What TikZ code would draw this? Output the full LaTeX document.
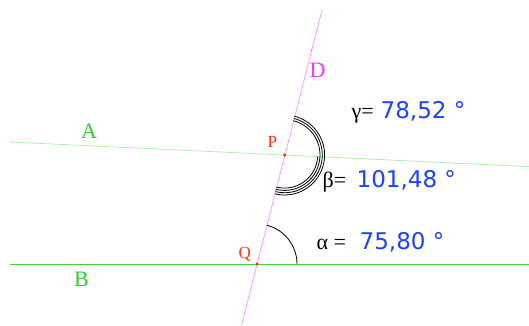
\documentclass[tikz,border=0pt]{standalone}
\usepackage{fontspec}
\setmainfont{Liberation Serif}
\newfontfamily\numfont{DejaVu Sans}
\usetikzlibrary{calc}
\definecolor{lgreen}{HTML}{B4EAB4}
\definecolor{bgreen}{HTML}{40D040}
\definecolor{lblgreen}{HTML}{33CC33}
\definecolor{dpink}{HTML}{FF9CFF}
\definecolor{dmag}{HTML}{FF33FF}
\definecolor{pred}{HTML}{FF3311}
\definecolor{nblue}{HTML}{1E40FF}
\tikzset{
  lbl/.style={inner sep=0pt, anchor=base west, font=\fontsize{22}{26}\selectfont},
  ptlbl/.style={inner sep=0pt, anchor=base west, text=pred, font=\fontsize{17}{20}\selectfont},
  greek/.style={inner sep=0pt, anchor=base west, font=\fontsize{22}{26}\selectfont},
  num/.style={inner sep=0pt, anchor=base west, text=nblue, font=\numfont\fontsize{23}{27}\selectfont},
  pt/.style={circle, fill=pred, inner sep=0pt, minimum size=3.4pt},
  arcline/.style={line width=0.8pt, black}
}
\begin{document}
\begin{tikzpicture}[x=1pt,y=1pt]
\useasboundingbox (0,0) rectangle (529,325);
% key points
\coordinate (Q) at (257,61);
\coordinate (P) at (284.6,170);
\coordinate (Dtop) at (322,315);
\coordinate (Dbot) at (241.5,0);
\coordinate (Aleft) at (10,183);
\coordinate (Aright) at (529,158.4);
\coordinate (Bleft) at (10,61);
\coordinate (Bright) at (529,61);
% lines
\draw[lgreen, line width=0.8pt] (Aleft) -- (Aright);
\draw[bgreen, line width=1pt] (Bleft) -- (Bright);
\draw[dpink, line width=0.8pt] (Dbot) -- (Dtop);
% angle arcs
\draw[arcline] ([shift={(0:40)}]Q) arc[start angle=0, end angle=75.8, radius=40];
\foreach \r in {35.4,37.7,40}
  \draw[arcline] ([shift={(-2.72:\r)}]P) arc[start angle=-2.72, end angle=75.8, radius=\r];
\foreach \r in {33.1,35.4,37.7,40}
  \draw[arcline] ([shift={(-2.72:\r)}]P) arc[start angle=-2.72, end angle=-104.2, radius=\r];
% points
\node[pt] (ptP) at (P) {};
\node[pt] (ptQ) at (Q) {};
\node[circle, fill=pred, inner sep=0pt, minimum size=1.2pt] (ptD) at (311.6,275) {};
% labels
\node[lbl, text=lblgreen] (labA) at (81,186.7) {A};
\node[lbl, text=lblgreen] (labB) at (74,38.3) {B};
\node[lbl, text=dmag] (labD) at (309.5,247.7) {D};
\node[ptlbl] (labP) at (267.5,177.3) {P};
\node[ptlbl] (labQ) at (238.5,67) {Q};
% angle values
\node[greek] (gam) at (351.5,206.5) {γ=};
\node[num] (gamv) at (380.5,206.5) {78,52 °};
\node[greek] (bet) at (322.5,138) {β=};
\node[num] (betv) at (356.5,138) {101,48 °};
\node[greek] (alp) at (316.5,76) {α =};
\node[num] (alpv) at (359.5,76) {75,80 °};
\end{tikzpicture}
\end{document}
